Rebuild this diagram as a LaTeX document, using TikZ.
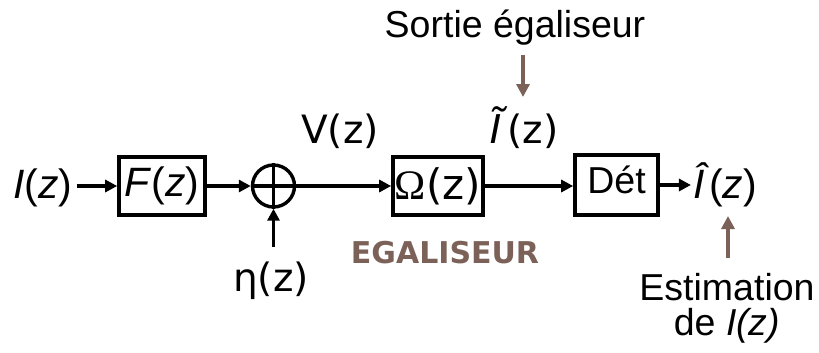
\documentclass[tikz,border=0pt]{standalone}
\usepackage{fontspec}
\setmainfont{Liberation Sans}
\newfontfamily\dv{DejaVu Sans}
\newfontfamily\lsr{Liberation Serif}
\usetikzlibrary{arrows.meta}
\definecolor{brun}{RGB}{123,97,87}
\begin{document}
\begin{tikzpicture}[x=1pt,y=-1pt,
  txt/.style={inner sep=0pt, font=\fontsize{37.5}{40}\selectfont},
  eq/.style={inner sep=0pt, font=\fontsize{41}{44}\selectfont},
  dvt/.style={inner sep=0pt, font=\dv\fontsize{39}{42}\selectfont},
  blk/.style={draw, line width=3.6pt, minimum height=58pt, inner sep=0pt},
  sig/.style={line width=3.2pt, -{Triangle[length=12pt,width=12pt]}},
  ann/.style={brun, line width=3.4pt, -{Triangle[length=13pt,width=13pt]}}]
\useasboundingbox (0,0) rectangle (819,353);
% main chain
\node[eq, anchor=base] (in) at (43,198) {\textit{I}(\textit{z})};
\node[blk, eq, minimum width=86pt] (F) at (162,186) {\textit{F}(\textit{z})};
\node[draw, circle, line width=3.4pt, minimum size=42pt, inner sep=0pt] (S) at (273.5,186) {};
\draw[line width=3.4pt] (S.north) -- (S.south) (S.west) -- (S.east);
\node[blk, minimum width=90pt, font=\fontsize{42}{46}\selectfont] (Om) at (438,186) {{\lsr Ω}{\dv(z)}};
\node[blk, txt, minimum width=83pt, minimum height=60pt, text height=27pt, text depth=11pt] (D) at (616.5,185) {Dét};
\node[eq, anchor=base] (Ih) at (725,198) {\textit{Î}(\textit{z})};
% labels
\node[dvt, anchor=base] (V) at (340,143) {V(z)};
\node[inner sep=0pt, anchor=base, font=\fontsize{42}{46}\selectfont] (It) at (524,143) {\textit{Ĩ}{\dv\fontsize{39}{42}\selectfont(z)}};
\node[dvt, anchor=base] (eta) at (271,291) {η(z)};
\node[txt, anchor=base] (sortie) at (515,38) {Sortie égaliseur};
\node[txt, anchor=base] (est) at (727,300) {Estimation};
\node[txt, anchor=base] (de) at (727,335) {de \textit{I(z)}};
\node[inner sep=0pt, anchor=base, brun, font=\dv\bfseries\fontsize{30}{33}\selectfont] (eg) at (445,263) {EGALISEUR};
\coordinate (stip) at (523,97);
\coordinate (etip) at (728,216);
% connectors
\draw[sig, shorten <=4pt] (in.east |- F.west) -- (F.west);
\draw[sig] (F.east) -- (S.west);
\draw[sig] (S.east) -- (Om.west);
\draw[sig] (Om.east) -- (Om.east -| D.west);
\draw[sig, shorten >=2pt] (D.east) -- (D.east -| Ih.west);
\draw[sig, shorten <=14pt] (S.south |- eta.north) -- (S.south);
\draw[ann, shorten <=9pt] (sortie.south -| stip) -- (stip);
\draw[ann, shorten <=15pt] (est.north -| etip) -- (etip);
\end{tikzpicture}
\end{document}
